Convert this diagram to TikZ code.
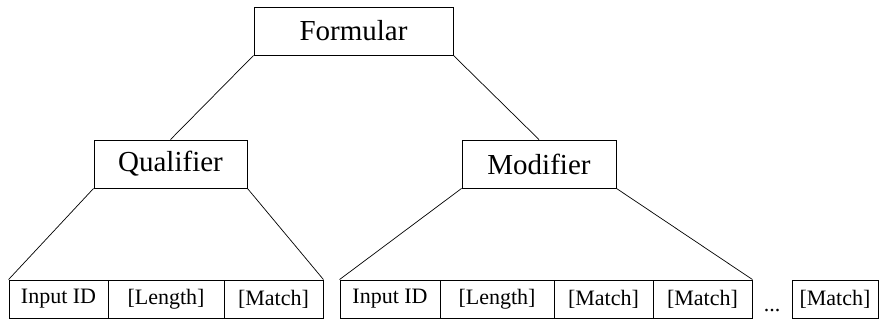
\documentclass[tikz,border=0pt]{standalone}
\usepackage{fontspec}
\setmainfont{Liberation Serif}
\begin{document}
\begin{tikzpicture}[x=1pt,y=-1pt,
  bigbox/.style={draw, line width=0.9pt, inner sep=0pt, minimum height=48pt, font=\fontsize{29}{34}\selectfont},
  cell/.style={draw, line width=0.9pt, inner sep=0pt, minimum height=38pt, font=\fontsize{22}{26}\selectfont},
  conn/.style={line width=0.7pt}]
\useasboundingbox (0,0) rectangle (880,320);
\node[bigbox, minimum width=199pt] (form) at (353.5,31) {Formular};
\node[bigbox, minimum width=153pt] (qual) at (170.5,164) {Qualifier};
\node[bigbox, minimum width=154pt] (mod) at (539,164) {Modifier};
% qualifier cells
\node[cell, minimum width=99pt] (q1) at (58.5,299) {Input ID};
\node[cell, minimum width=116pt] (q2) at (166,299) {[Length]};
\node[cell, minimum width=99pt] (q3) at (273.5,299) {[Match]};
% modifier cells
\node[cell, minimum width=100pt] (m1) at (390,299) {Input ID};
\node[cell, minimum width=114pt] (m2) at (497,299) {[Length]};
\node[cell, minimum width=99pt] (m3) at (603.5,299) {[Match]};
\node[cell, minimum width=99pt] (m4) at (702.5,299) {[Match]};
\node[font=\fontsize{22}{26}\selectfont, inner sep=0pt, anchor=base] (dots) at (772,311) {...};
\node[cell, minimum width=86pt] (m5) at (835,299) {[Match]};
% connectors
\draw[conn] (form.south west) -- (qual.north);
\draw[conn] (form.south east) -- (mod.north);
\draw[conn] (qual.south west) -- (q1.north west);
\draw[conn] (qual.south east) -- (q3.north east);
\draw[conn] (mod.south west) -- (m1.north west);
\draw[conn] (mod.south east) -- (m4.north east);
\end{tikzpicture}
\end{document}
